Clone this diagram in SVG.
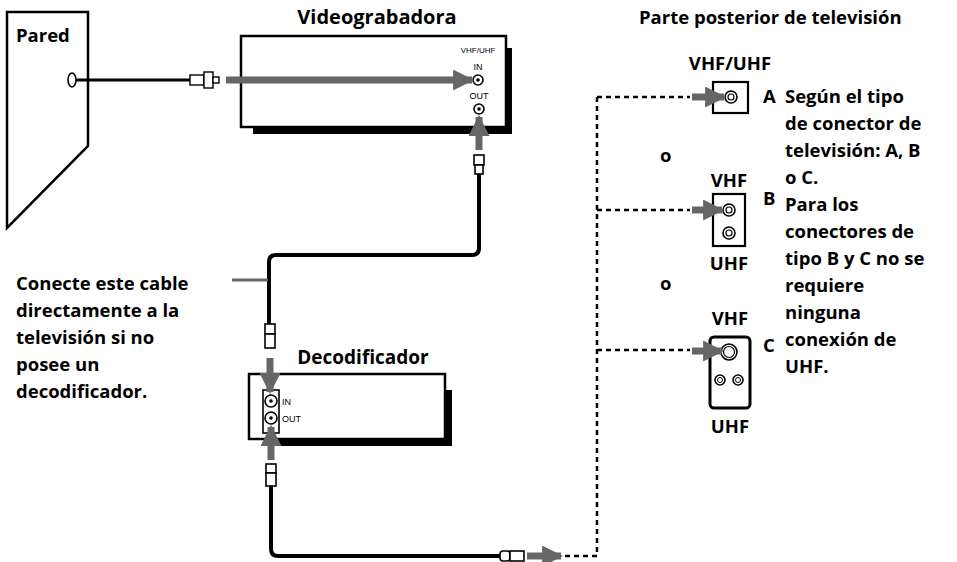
<svg xmlns="http://www.w3.org/2000/svg" width="957" height="562" viewBox="0 0 957 562">
<defs>
<style>
.t{font-family:"Open Sans","Liberation Sans",sans-serif;font-weight:bold;font-size:18.5px;fill:#000}
.s{font-family:"Liberation Sans",sans-serif;font-size:9px;fill:#000}
.box{fill:#fff;stroke:#000;stroke-width:2.5}
.cab{fill:none;stroke:#000;stroke-width:4;stroke-linejoin:round}
.g{fill:none;stroke:#666;stroke-width:7}
.d{fill:none;stroke:#000;stroke-width:2.5;stroke-dasharray:5,4}
.j{fill:#fff;stroke:#000;stroke-width:1.6}
</style>
<marker id="ah" viewBox="0 0 10 10" refX="9" refY="5" markerWidth="3" markerHeight="3" orient="auto" markerUnits="strokeWidth"><path d="M0,0L10,5L0,10z" fill="#666"/></marker>
</defs>
<g id="wall">
<polygon points="7,12 88,12 88,146 7,228" class="box"/>
<text x="16" y="42" class="t">Pared</text>
<ellipse cx="72" cy="80" rx="4" ry="7" class="j"/>
</g>
<g id="vcr">
<rect x="253" y="127" width="259" height="7" fill="#000"/>
<rect x="506" y="48" width="6" height="86" fill="#000"/>
<rect x="241" y="36" width="265" height="91" class="box"/>
<text x="377" y="24" class="t" text-anchor="middle" style="font-size:20px">Videograbadora</text>
<text x="478" y="53" class="s" style="font-size:8px" text-anchor="middle">VHF/UHF</text>
<text x="478" y="70" class="s" text-anchor="middle">IN</text>
<circle cx="478" cy="80" r="5" class="j"/><circle cx="478" cy="80" r="1.8"/>
<text x="479" y="99" class="s" text-anchor="middle">OUT</text>
<circle cx="479" cy="109" r="5" class="j"/><circle cx="479" cy="109" r="1.8"/>
</g>
<g id="decoder">
<rect x="274" y="439" width="178" height="7" fill="#000"/>
<rect x="445" y="390" width="7" height="56" fill="#000"/>
<rect x="249" y="374" width="196" height="65" class="box"/>
<text x="363" y="364" class="t" text-anchor="middle" style="font-size:19px">Decodificador</text>
<rect x="263" y="390" width="16" height="43" class="j"/>
<circle cx="271" cy="401" r="6" class="j"/><circle cx="271" cy="401" r="1.8"/>
<circle cx="271" cy="418" r="6" class="j"/><circle cx="271" cy="418" r="1.8"/>
<text x="282" y="405" class="s">IN</text>
<text x="282" y="422" class="s">OUT</text>
</g>
<g id="tvA">
<text x="730" y="70" class="t" text-anchor="middle">VHF/UHF</text>
<rect x="713" y="82" width="35" height="31" class="j" style="stroke-width:2.2"/>
<circle cx="731" cy="97" r="6" class="j"/><circle cx="731" cy="97" r="3" class="j" style="stroke-width:1.2"/>
<text x="763" y="103" class="t">A</text>
</g>
<g id="tvB">
<text x="729" y="187" class="t" text-anchor="middle">VHF</text>
<rect x="713" y="194" width="32" height="52" class="j" style="stroke-width:2.2"/>
<circle cx="729" cy="210" r="6" class="j"/><circle cx="729" cy="210" r="3" class="j" style="stroke-width:1.2"/>
<circle cx="729" cy="233" r="6" class="j"/><circle cx="729" cy="233" r="3" class="j" style="stroke-width:1.2"/>
<text x="729" y="270" class="t" text-anchor="middle">UHF</text>
<text x="763" y="205" class="t">B</text>
</g>
<g id="tvC">
<text x="730" y="325" class="t" text-anchor="middle">VHF</text>
<rect x="710" y="337" width="40" height="71" rx="4" class="j" style="stroke-width:3"/>
<circle cx="729" cy="352" r="8" class="j"/><circle cx="729" cy="352" r="5.5" class="j" style="stroke-width:1.2"/>
<circle cx="720" cy="380" r="5" class="j"/><circle cx="720" cy="380" r="2.5" class="j" style="stroke-width:1"/>
<circle cx="738" cy="380" r="5" class="j"/><circle cx="738" cy="380" r="2.5" class="j" style="stroke-width:1"/>
<text x="730" y="433" class="t" text-anchor="middle">UHF</text>
<text x="763" y="352" class="t">C</text>
</g>
<g id="texts">
<text x="639" y="24" class="t" style="font-size:18.5px">Parte posterior de televisión</text>
<text x="660" y="162" class="t">o</text>
<text x="660" y="290" class="t">o</text>
<text class="t"><tspan x="785" y="103">Según el tipo</tspan><tspan x="785" y="130">de conector de</tspan><tspan x="785" y="157">televisión: A, B</tspan><tspan x="785" y="184">o C.</tspan><tspan x="785" y="211">Para los</tspan><tspan x="785" y="238">conectores de</tspan><tspan x="785" y="265">tipo B y C no se</tspan><tspan x="785" y="292">requiere</tspan><tspan x="785" y="319">ninguna</tspan><tspan x="785" y="346">conexión de</tspan><tspan x="785" y="373">UHF.</tspan></text>
<text class="t"><tspan x="16" y="290">Conecte este cable</tspan><tspan x="16" y="317">directamente a la</tspan><tspan x="16" y="344">televisión si no</tspan><tspan x="16" y="371">posee un</tspan><tspan x="16" y="398">decodificador.</tspan></text>
</g>
<g id="connectors">
<line x1="76" y1="80" x2="190" y2="80" stroke="#000" stroke-width="3"/>
<g class="j" style="stroke-width:1.4">
<rect x="190" y="75" width="14" height="10"/><rect x="204" y="72" width="9" height="16"/><rect x="213" y="77" width="6" height="6"/>
</g>
<line x1="226" y1="80" x2="472" y2="80" class="g" marker-end="url(#ah)"/>
<line x1="479" y1="150" x2="479" y2="117" class="g" marker-end="url(#ah)"/>
<g class="j"><rect x="474" y="155" width="10" height="10"/><rect x="475" y="165" width="8" height="9"/></g>
<path d="M479,174V248Q479,255 472,255H276Q269,255 269,262V324" class="cab"/>
<line x1="232" y1="280" x2="268" y2="280" stroke="#666" stroke-width="3"/>
<g class="j"><rect x="265" y="324" width="10" height="10"/><rect x="265" y="334" width="10" height="14"/></g>
<line x1="270" y1="358" x2="270" y2="392" class="g" marker-end="url(#ah)"/>
<line x1="271" y1="460" x2="271" y2="427" class="g" marker-end="url(#ah)"/>
<g class="j"><rect x="266" y="464" width="10" height="9"/><rect x="266" y="473" width="10" height="13"/></g>
<path d="M271,486V549Q271,556 278,556H500" class="cab"/>
<g class="j"><rect x="500" y="551" width="10" height="10" rx="3"/><rect x="510" y="551" width="14" height="10"/></g>
<line x1="527" y1="556" x2="561" y2="556" class="g" marker-end="url(#ah)"/>
<path d="M565,556H597V97" class="d"/>
<line x1="597" y1="97" x2="690" y2="97" class="d"/>
<line x1="597" y1="210" x2="690" y2="210" class="d"/>
<line x1="597" y1="350" x2="690" y2="350" class="d"/>
<line x1="692" y1="97" x2="724" y2="97" class="g" marker-end="url(#ah)"/>
<line x1="692" y1="210" x2="722" y2="210" class="g" marker-end="url(#ah)"/>
<line x1="692" y1="351" x2="722" y2="351" class="g" marker-end="url(#ah)"/>
</g>
</svg>
